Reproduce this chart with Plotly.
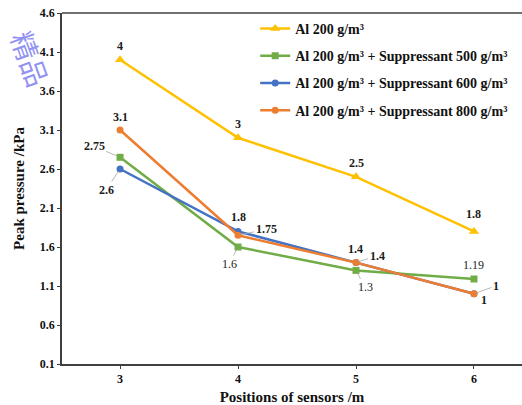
import plotly.graph_objects as go

positions = [3, 4, 5, 6]
series_names = [
    "Al 200 g/m³",
    "Al 200 g/m³ + Suppressant 500 g/m³",
    "Al 200 g/m³ + Suppressant 600 g/m³",
    "Al 200 g/m³ + Suppressant 800 g/m³",
]
al200 = [4, 3, 2.5, 1.8]
sup500 = [2.75, 1.6, 1.3, 1.19]
sup600 = [2.6, 1.8, 1.4, 1.0]
sup800 = [3.1, 1.75, 1.4, 1.0]
y_ticks = [0.1, 0.6, 1.1, 1.6, 2.1, 2.6, 3.1, 3.6, 4.1, 4.6]

colors = ["#FFC000", "#70AD47", "#4472C4", "#ED7D31"]
symbols = ["triangle-up", "square", "circle", "circle"]
all_series = [al200, sup500, sup600, sup800]

FONT = "Liberation Serif, Times New Roman, serif"

fig = go.Figure()
for i, (name, vals) in enumerate(zip(series_names, all_series)):
    fig.add_trace(go.Scatter(
        x=positions, y=vals, name=name, mode="lines+markers",
        line=dict(color=colors[i], width=2.5),
        marker=dict(symbol=symbols[i], size=9 if i == 0 else 7, color=colors[i]),
        legendgroup=f"g{i}",
    ))

# label offsets: (series index, point index, dx, dy (px, up positive), leader, bold)
labels = [
    (0, 0, 0, 14, False, True), (0, 1, 0, 14, False, True), (0, 2, 0, 14, False, True), (0, 3, 0, 17, False, True),
    (1, 0, -26, 11, True, True), (1, 1, -9, -17, True, False), (1, 2, 9, -17, True, False), (1, 3, 0, 14, False, False),
    (2, 0, -14, -21, True, True), (2, 1, 0, 14, False, True), (2, 2, -1, 14, False, True), (2, 3, 22, 8, True, True),
    (3, 0, 0, 13, False, True), (3, 1, 28, 6, True, True), (3, 2, 21, 7, True, True), (3, 3, 10, -6, False, True),
]
for si, pi, dx, dy, leader, bold in labels:
    v = all_series[si][pi]
    txt = f"{v:g}"
    f = dict(family=FONT, size=12, color="#1a1a1a", weight="bold" if bold else "normal")
    if leader:
        fig.add_annotation(x=positions[pi], y=v, text=txt, showarrow=True, ax=dx, ay=-dy,
                           arrowhead=0, arrowwidth=0.8, arrowcolor="#A6A6A6", standoff=3,
                           font=f)
    else:
        fig.add_annotation(x=positions[pi], y=v, text=txt, showarrow=False, xshift=dx, yshift=dy, font=f)

# watermark (kept inside the picture)
fig.add_annotation(xref="paper", yref="paper", x=-0.067, y=0.87, text="精品", showarrow=False,
                   textangle=70, font=dict(size=28, color="rgba(110,110,240,0.75)", family="Noto Sans CJK SC"),
                   xanchor="center", yanchor="middle")

# top frame line
fig.add_shape(type="line", xref="paper", yref="paper", x0=0, x1=1, y0=1, y1=1,
              line=dict(color="#404040", width=1.5))

fig.update_layout(
    width=522, height=405,
    margin=dict(l=62, r=0, t=13, b=41, autoexpand=False),
    plot_bgcolor="white", paper_bgcolor="white",
    font=dict(family=FONT, color="#111111"),
    showlegend=True,
    legend=dict(x=0.42, y=1.0, xanchor="left", yanchor="top", bgcolor="rgba(0,0,0,0)",
                font=dict(family=FONT, size=14, weight="bold", color="#111111"),
                traceorder="grouped", tracegroupgap=6, itemwidth=30),
    xaxis=dict(range=[2.508, 6.407], tickvals=positions, showgrid=False, zeroline=False,
               showline=True, linecolor="#404040", linewidth=1.5, mirror=False,
               ticks="outside", ticklen=3, tickcolor="#404040",
               tickfont=dict(family=FONT, size=12, weight="bold"),
               title=dict(text="Positions of sensors /m", standoff=12,
                          font=dict(family=FONT, size=15, weight="bold"))),
    yaxis=dict(range=[0.1, 4.6], tickvals=y_ticks, ticktext=[f"{t:.1f}" for t in y_ticks],
               showgrid=False, zeroline=False,
               showline=True, linecolor="#404040", linewidth=1.5, mirror=False,
               ticks="outside", ticklen=3, tickcolor="#404040",
               tickfont=dict(family=FONT, size=12, weight="bold"),
               title=dict(text="Peak pressure /kPa", standoff=12,
                          font=dict(family=FONT, size=15, weight="bold"))),
)

fig.write_html("out.html")
